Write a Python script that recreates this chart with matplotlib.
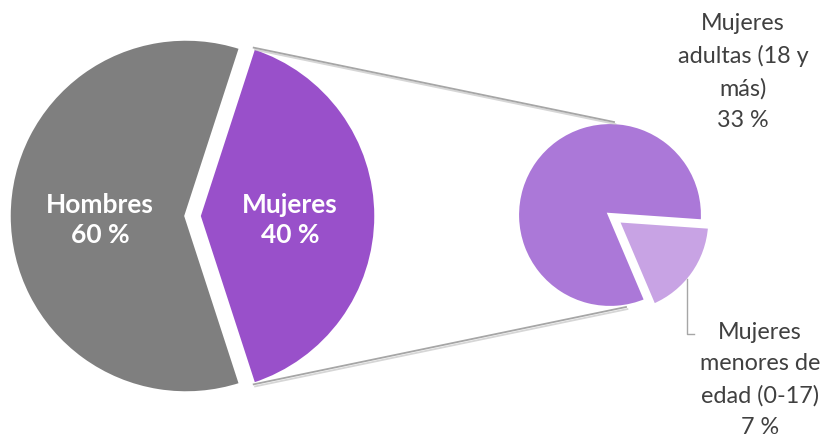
import math
import matplotlib
matplotlib.use("Agg")
import matplotlib.pyplot as plt
import matplotlib.patheffects as pe

plt.rcParams['font.family'] = ['Lato', 'DejaVu Sans']

# data
main_labels = ["Mujeres\n40 %", "Hombres\n60 %"]
main_values = [40, 60]
main_colors = ["#9950CA", "#7F7F7F"]

sub_labels = ["Mujeres\nmenores de\nedad (0-17)\n7 %", "Mujeres\nadultas (18 y\nmás)\n33 %"]
sub_values = [7, 33]
sub_colors = ["#C8A3E4", "#AB78D8"]

W, H = 822, 446
fig = plt.figure(figsize=(W / 100, H / 100), dpi=100)
ax = fig.add_axes([0, 0, 1, 1])

def Y(y):
    return H - y

# big pie (explode is in data units here = pixels)
c1 = (186, Y(216))
r1 = 177
off1 = 13
start1 = -360 * main_values[0] / sum(main_values) / 2
ax.pie(main_values, colors=main_colors, startangle=start1, center=c1, radius=r1,
       explode=[off1, 0], wedgeprops=dict(edgecolor='white', linewidth=2.5),
       frame=True)

# small pie
c2 = (610, Y(215))
r2 = 93
off2 = 9
start2 = -4 - 360 * sub_values[0] / sum(sub_values)
ax.pie(sub_values, colors=sub_colors, startangle=start2, center=c2, radius=r2,
       explode=[off2, 0], wedgeprops=dict(edgecolor='white', linewidth=3),
       frame=True)
ax.set_xlim(0, W)
ax.set_ylim(0, H)
ax.set_aspect('equal')
ax.axis('off')

# connector lines from the exploded Mujeres wedge to the small pie
a = math.radians(360 * main_values[0] / sum(main_values) / 2)
top1 = (c1[0] + off1 + r1 * math.cos(a), c1[1] + r1 * math.sin(a))
bot1 = (c1[0] + off1 + r1 * math.cos(a), c1[1] - r1 * math.sin(a))
top2 = (c2[0] + 4, c2[1] + r2)
bot2 = (c2[0] + 16, c2[1] - r2 + 1)
shadow = [pe.SimpleLineShadow(offset=(1, -1.5), shadow_color='#bbbbbb', alpha=0.6), pe.Normal()]
for p, q in [(top1, top2), (bot1, bot2)]:
    ax.plot([p[0], q[0]], [p[1], q[1]], color='#A6A6A6', lw=1.3, path_effects=shadow)

# labels
ax.text(100, Y(220), main_labels[1], color='white', fontsize=19, fontweight='bold',
        ha='center', va='center', linespacing=1.3)
ax.text(290, Y(220), main_labels[0], color='white', fontsize=19, fontweight='bold',
        ha='center', va='center', linespacing=1.3)
ax.text(743, Y(72), sub_labels[1], color='#404040', fontsize=16.8,
        ha='center', va='center', linespacing=1.62)
ax.text(760, Y(380), sub_labels[0], color='#404040', fontsize=16.8,
        ha='center', va='center', linespacing=1.62)

# leader line for the small wedge label
ax.plot([687, 687, 694], [Y(279), Y(334), Y(334)], color='#A6A6A6', lw=1)

fig.savefig("out.png", dpi=100)
